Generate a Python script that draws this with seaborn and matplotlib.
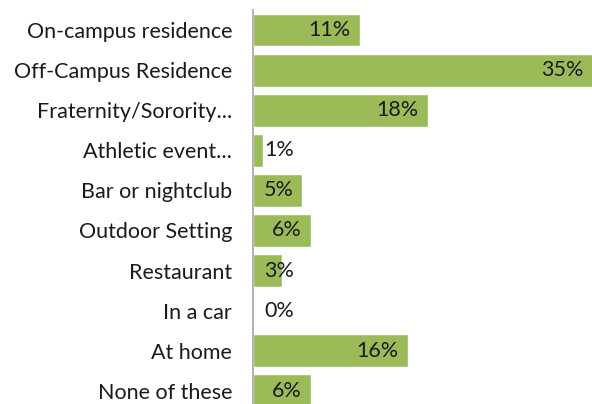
import matplotlib
matplotlib.use("Agg")
import matplotlib.pyplot as plt
import seaborn as sns
import pandas as pd

# data
locations = ["On-campus residence", "Off-Campus Residence", "Fraternity/Sorority...",
             "Athletic event...", "Bar or nightclub", "Outdoor Setting",
             "Restaurant", "In a car", "At home", "None of these"]
percents = [11, 35, 18, 1, 5, 6, 3, 0, 16, 6]

df = pd.DataFrame({"Location": locations, "Percent": percents})

sns.set_theme(style="white")
plt.rcParams["font.family"] = ["Lato", "DejaVu Sans"]

fig = plt.figure(figsize=(5.92, 4.04), dpi=100)
ax = fig.add_axes([253 / 592, 0.0, 340 / 592, 394 / 404])

sns.barplot(data=df, x="Percent", y="Location", color="#9bbb59",
            saturation=1, width=0.82, ax=ax)

ax.set_xlim(0, 35)
ax.set_ylim(9.33, -0.5)

for i, v in enumerate(percents):
    x = max(v - 1.0, 4.2)
    ax.text(x, i, f"{v}%", ha="right", va="center", fontsize=15.5, color="#1a1a1a")

ax.set_xlabel("")
ax.set_ylabel("")
ax.set_xticks([])
ax.tick_params(axis="y", length=0, pad=15, labelsize=15.5, labelcolor="#1a1a1a")
for side in ["top", "right", "bottom"]:
    ax.spines[side].set_visible(False)
ax.spines["left"].set_color("#a6a6a6")
ax.spines["left"].set_linewidth(1.2)

fig.savefig("out.png", dpi=100)
